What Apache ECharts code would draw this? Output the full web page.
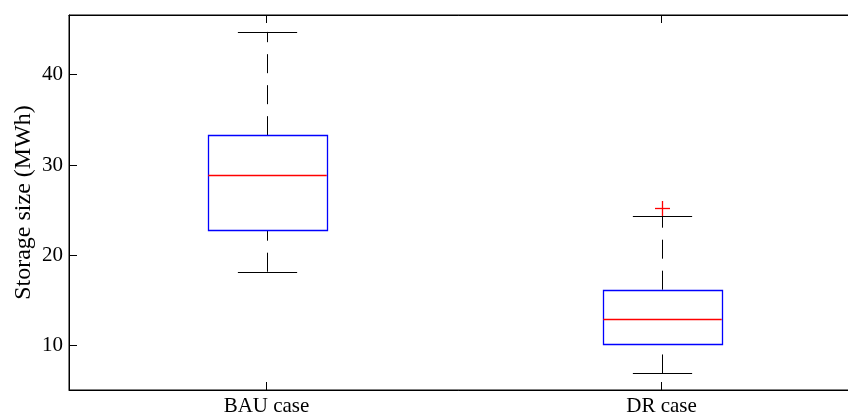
<!DOCTYPE html>
<html>
<head>
<meta charset="utf-8">
<script src="https://cdn.jsdelivr.net/npm/echarts@6/dist/echarts.min.js"></script>
<style>
html,body{margin:0;padding:0;background:#fff;}
#chart{width:848px;height:416px;}
</style>
</head>
<body>
<div id="chart"></div>
<script>
// ---- data ----
const categories = ['BAU case', 'DR case'];
const lowerWhisker = [18.19, 6.93];
const q1 = [22.77, 10.25];
const median = [28.85, 12.91];
const q3 = [33.30, 16.20];
const upperWhisker = [44.73, 24.31];
const outlierCategory = [1];
const outlierValue = [25.2];
const yTicks = [10, 20, 30, 40];
const yMin = 5.1;
const yMax = 46.6;
const yName = 'Storage size (MWh)';

const FONT = 'Liberation Serif';

const boxData = categories.map((c, i) => [i, lowerWhisker[i], q1[i], median[i], q3[i], upperWhisker[i]]);
const outlierData = outlierCategory.map((c, i) => [c, outlierValue[i]]);

function px(v) { return Math.round(v) + 0.5; }

function renderBox(params, api) {
  const idx = api.value(0);
  const band = api.size([1, 0])[0];
  const half = band * 0.15;
  const capHalf = band * 0.075;
  const pLow = api.coord([idx, api.value(1)]);
  const pQ1 = api.coord([idx, api.value(2)]);
  const pMed = api.coord([idx, api.value(3)]);
  const pQ3 = api.coord([idx, api.value(4)]);
  const pHigh = api.coord([idx, api.value(5)]);
  const cx = px(pLow[0]);
  const dash = { stroke: '#000', fill: null, lineWidth: 1, lineDash: [19, 12] };
  const solidBlack = { stroke: '#000', fill: null, lineWidth: 1 };
  return {
    type: 'group',
    children: [
      { type: 'line', shape: { x1: cx, y1: pLow[1], x2: cx, y2: pQ1[1] }, style: dash },
      { type: 'line', shape: { x1: cx, y1: pQ3[1], x2: cx, y2: pHigh[1] }, style: dash },
      { type: 'line', shape: { x1: cx - capHalf, y1: px(pLow[1]), x2: cx + capHalf, y2: px(pLow[1]) }, style: solidBlack },
      { type: 'line', shape: { x1: cx - capHalf, y1: px(pHigh[1]), x2: cx + capHalf, y2: px(pHigh[1]) }, style: solidBlack },
      { type: 'rect', shape: { x: px(cx - half), y: px(pQ3[1]), width: Math.round(2 * half), height: Math.round(pQ1[1] - pQ3[1]) },
        style: { fill: null, stroke: '#0000ff', lineWidth: 1.3 } },
      { type: 'line', shape: { x1: cx - half, y1: px(pMed[1]), x2: cx + half, y2: px(pMed[1]) },
        style: { stroke: '#ff0000', fill: null, lineWidth: 1.5 }, z2: 10 }
    ]
  };
}

function renderOutlier(params, api) {
  const p = api.coord([api.value(0), api.value(1)]);
  const s = 7.5;
  const st = { stroke: '#ff0000', fill: null, lineWidth: 1.3 };
  const x = px(p[0]), y = px(p[1]);
  return {
    type: 'group',
    children: [
      { type: 'line', shape: { x1: x - s, y1: y, x2: x + s, y2: y }, style: st },
      { type: 'line', shape: { x1: x, y1: y - s, x2: x, y2: y + s }, style: st }
    ]
  };
}

const chart = echarts.init(document.getElementById('chart'), null, { renderer: 'canvas' });
chart.setOption({
  animation: false,
  backgroundColor: '#fff',
  grid: { left: 69, top: 15, width: 790, height: 375, outerBoundsMode: 'none', containLabel: false,
          show: true, borderColor: '#000', borderWidth: 1, backgroundColor: 'transparent' },
  xAxis: [
    {
      type: 'category',
      data: categories,
      boundaryGap: true,
      axisLine: { show: true, lineStyle: { color: '#000', width: 1 } },
      axisTick: { show: true, inside: true, length: 8, alignWithLabel: true, lineStyle: { color: '#000' } },
      axisLabel: { color: '#000', fontFamily: FONT, fontSize: 21, margin: 6 },
      splitLine: { show: false }
    },
    {
      type: 'category',
      position: 'top',
      data: categories,
      boundaryGap: true,
      axisLine: { show: true, lineStyle: { color: '#000', width: 1 } },
      axisTick: { show: true, inside: true, length: 8, alignWithLabel: true, lineStyle: { color: '#000' } },
      axisLabel: { show: false },
      splitLine: { show: false }
    }
  ],
  yAxis: {
    type: 'value',
    min: yMin,
    max: yMax,
    name: yName,
    nameLocation: 'middle',
    nameGap: 33,
    nameMoveOverlap: false,
    nameTextStyle: { color: '#000', fontFamily: FONT, fontSize: 24 },
    axisLine: { show: true, lineStyle: { color: '#000', width: 1 } },
    axisTick: { show: true, inside: true, length: 8, customValues: yTicks, lineStyle: { color: '#000', width: 1 } },
    axisLabel: { color: '#000', fontFamily: FONT, fontSize: 21, margin: 6, customValues: yTicks },
    splitLine: { show: false }
  },
  series: [
    {
      type: 'custom',
      renderItem: renderBox,
      data: boxData,
      encode: { x: 0, y: [1, 2, 3, 4, 5] },
      z: 2
    },
    {
      type: 'custom',
      renderItem: renderOutlier,
      data: outlierData,
      encode: { x: 0, y: 1 },
      z: 3
    }
  ]
});
</script>
</body>
</html>
